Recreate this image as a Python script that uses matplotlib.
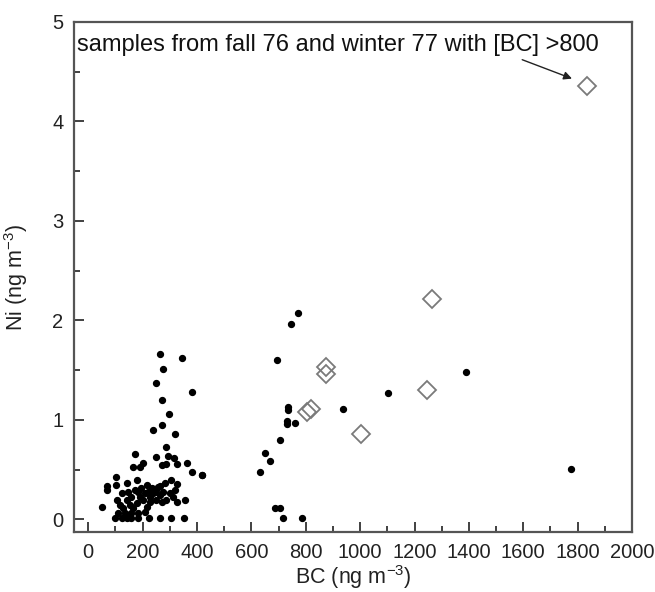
import matplotlib
matplotlib.use("Agg")
import matplotlib.pyplot as plt
from matplotlib.ticker import MultipleLocator

plt.rcParams['font.family'] = ['Liberation Sans', 'DejaVu Sans']
plt.rcParams['mathtext.fontset'] = 'custom'
plt.rcParams['mathtext.rm'] = 'Liberation Sans'
plt.rcParams['mathtext.default'] = 'regular'

# black dots: all samples
bc_dots = [263, 345, 275, 249, 380, 273, 298, 237, 270, 319, 285, 172, 251, 294, 315,
           166, 190, 202, 273, 285, 325, 364, 380, 419, 102, 68, 68, 102, 141, 178,
           215, 239, 263, 282, 306, 325, 50, 98, 123, 141, 159, 184, 224, 263, 306,
           351, 355, 327,
           105, 117, 129, 141, 153, 166, 178, 190, 202, 215, 227, 239, 251, 263, 276,
           288, 300, 312, 319, 123, 147, 159, 172, 184, 196, 208, 221, 233, 245, 257,
           270, 135, 159, 184, 111, 208, 251, 227,
           771, 747, 695, 735, 735, 731, 731, 759, 704, 649, 670, 633, 687, 706, 718,
           787, 936, 1104, 420, 1390, 1775]
ni_dots = [1.66, 1.62, 1.51, 1.37, 1.28, 1.20, 1.06, 0.90, 0.95, 0.86, 0.73, 0.66, 0.63, 0.64, 0.62,
           0.53, 0.53, 0.57, 0.55, 0.56, 0.56, 0.57, 0.48, 0.45, 0.43, 0.33, 0.29, 0.34, 0.36, 0.39,
           0.34, 0.29, 0.33, 0.36, 0.39, 0.35, 0.12, 0.01, 0.01, 0.01, 0.01, 0.01, 0.01, 0.01, 0.01,
           0.01, 0.19, 0.17,
           0.19, 0.14, 0.11, 0.19, 0.14, 0.11, 0.16, 0.22, 0.19, 0.12, 0.22, 0.26, 0.19, 0.24, 0.27,
           0.19, 0.26, 0.22, 0.29, 0.26, 0.27, 0.22, 0.29, 0.27, 0.31, 0.26, 0.27, 0.31, 0.27, 0.32,
           0.17, 0.06, 0.06, 0.06, 0.06, 0.075, 0.29, 0.17,
           2.07, 1.96, 1.60, 1.13, 1.10, 0.99, 0.96, 0.97, 0.80, 0.67, 0.59, 0.48, 0.11, 0.11, 0.01,
           0.01, 1.11, 1.27, 0.45, 1.48, 0.51]

# open diamonds: fall 76 / winter 77 with [BC] > 800
bc_fw = [1835, 1265, 1245, 875, 875, 820, 805, 1005]
ni_fw = [4.36, 2.21, 1.30, 1.53, 1.46, 1.11, 1.08, 0.86]

note = 'samples from fall 76 and winter 77 with [BC] >800'

fig = plt.figure(figsize=(6.55, 5.92), dpi=100)
ax = fig.add_axes([0.113, 0.101, 0.852, 0.862])

ax.scatter(bc_dots, ni_dots, s=18, color='black', zorder=3)
ax.plot(bc_fw, ni_fw, linestyle='none', marker='D', markersize=9.5,
        markerfacecolor='none', markeredgecolor='#7a7a7a', markeredgewidth=1.3, zorder=3)

ax.set_xlim(-52, 2000)
ax.set_ylim(-0.13, 5)
ax.xaxis.set_major_locator(MultipleLocator(200))
ax.xaxis.set_minor_locator(MultipleLocator(100))
ax.yaxis.set_major_locator(MultipleLocator(1))
ax.yaxis.set_minor_locator(MultipleLocator(0.5))
ax.tick_params(which='both', direction='in', colors='#333333', labelcolor='#222222',
               labelsize=14.5, width=1.3, pad=7.5)
ax.tick_params(which='major', length=7)
ax.tick_params(which='minor', length=4)
for sp in ax.spines.values():
    sp.set_color('#555555')
    sp.set_linewidth(1.6)

ax.set_xlabel('BC (ng m$^{-3}$)', fontsize=15.5, color='#222222', labelpad=1)
ax.set_ylabel('Ni (ng m$^{-3}$)', fontsize=15.5, color='#222222', labelpad=16)

# note text plus arrow to the top diamond
ax.text(-42, 4.71, note, fontsize=17, color='#111111', ha='left', va='baseline')
ax.annotate('', xy=(1779, 4.43), xytext=(1596, 4.62),
            arrowprops=dict(arrowstyle='-|>', color='#222222', lw=1,
                            shrinkA=0, shrinkB=0, mutation_scale=12))

fig.savefig('out.png', dpi=100)
